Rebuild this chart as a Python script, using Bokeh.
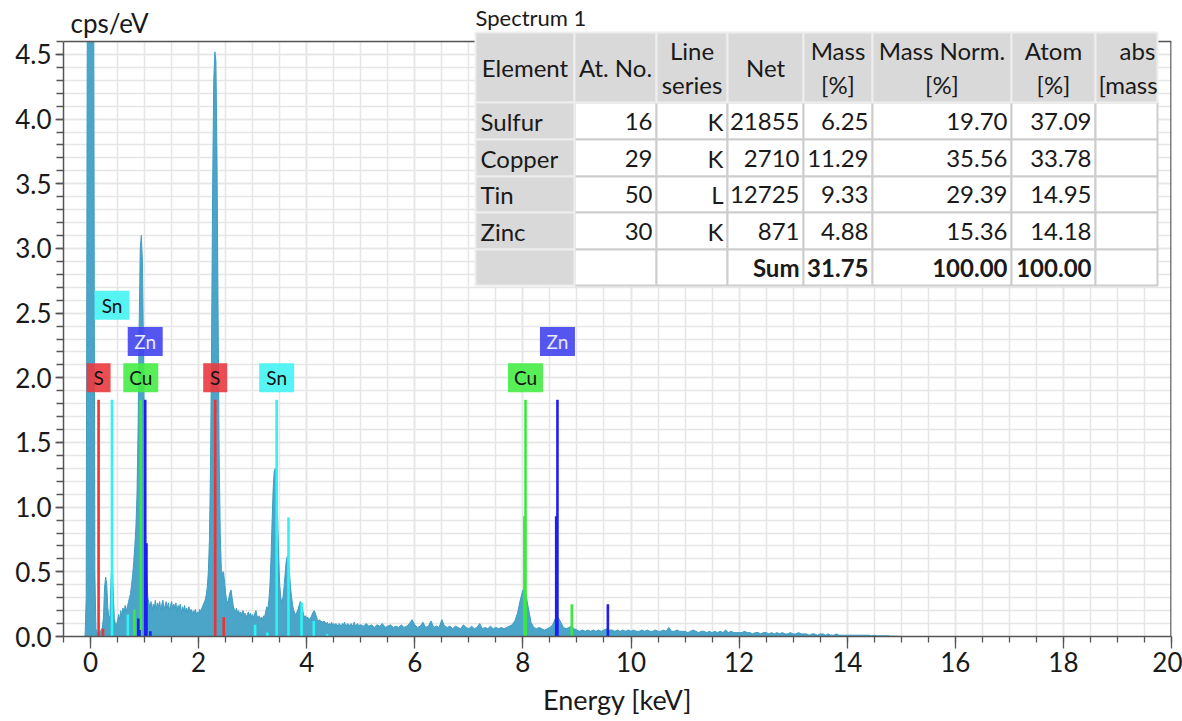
import numpy as np
from bokeh.plotting import figure
from bokeh.models import Range1d, SingleIntervalTicker, NumeralTickFormatter
from bokeh.embed import file_html
from bokeh.resources import INLINE
from bokeh.core.properties import value

# ---------------- data ----------------
# EDS spectrum (cps/eV), low-energy part: channels from -0.20 keV every 0.02 keV
# (the zero-energy strobe peak is off scale in the picture; it is kept just above the box top)
low_start, low_step = -0.20, 0.02
low_counts = [
    0, 0, 0, 0, 0, 0.01, 0.3, 4.8, 4.8, 4.8,
    4.8, 4.8, 4.8, 4.7, 0.5, 0.06, 0.03, 0.02, 0.03, 0.04,
    0.05, 0.07, 0.15, 0.38, 0.46, 0.40, 0.22, 0.14, 0.16, 0.45,
    0.60, 0.35, 0.14, 0.10, 0.09, 0.12, 0.17, 0.13, 0.20, 0.15,
    0.22, 0.18, 0.24, 0.19, 0.23, 0.26, 0.30, 0.33, 0.40, 0.48,
    0.58, 0.70, 0.85, 1.10, 1.60, 2.40, 3.00, 3.10, 2.90, 2.20,
    1.40, 0.75, 0.45, 0.30, 0.26, 0.22, 0.27, 0.20, 0.25, 0.22,
    0.28, 0.21, 0.26, 0.23, 0.27, 0.20, 0.25, 0.28, 0.21, 0.24,
    0.27, 0.22, 0.26, 0.20, 0.24, 0.27, 0.21, 0.25, 0.22, 0.26,
    0.19, 0.24, 0.21, 0.25, 0.18, 0.23, 0.20, 0.24, 0.19, 0.22,
    0.18, 0.23, 0.19, 0.21, 0.17, 0.20, 0.18, 0.21, 0.17, 0.19,
    0.18, 0.21, 0.19, 0.22, 0.24, 0.26, 0.28, 0.32, 0.38, 0.50,
    0.75, 1.30, 2.30, 3.50, 4.30, 4.52, 4.45, 3.70, 2.50, 1.40,
    0.80, 0.52, 0.48, 0.50, 0.42, 0.33, 0.28, 0.26, 0.30, 0.34,
    0.36, 0.30, 0.24, 0.21, 0.19, 0.22, 0.18, 0.20, 0.17, 0.19,
    0.16, 0.20, 0.17, 0.18, 0.15, 0.17, 0.19, 0.16, 0.18, 0.15,
    0.17, 0.14, 0.18, 0.20, 0.16, 0.14, 0.16, 0.13, 0.15, 0.13,
    0.16, 0.15, 0.19, 0.23, 0.21, 0.28, 0.40, 0.62, 0.90, 1.15,
    1.28, 1.30, 1.22, 0.95, 0.62, 0.40, 0.30, 0.26, 0.30, 0.38,
    0.48, 0.58, 0.62, 0.60, 0.50, 0.38, 0.30, 0.24, 0.20, 0.18,
    0.17, 0.19, 0.21, 0.24, 0.27, 0.26, 0.22, 0.17, 0.15, 0.16,
    0.14, 0.15, 0.13, 0.14, 0.15, 0.17, 0.19, 0.20, 0.18, 0.15,
    0.13, 0.12, 0.13, 0.11, 0.12, 0.10, 0.12, 0.11, 0.10, 0.11,
    0.09, 0.10, 0.09, 0.11, 0.09, 0.10, 0.08, 0.10, 0.09, 0.08,
    0.10, 0.09, 0.08, 0.10, 0.09, 0.11, 0.08, 0.09, 0.10, 0.08,
    0.09, 0.10, 0.08, 0.09, 0.11, 0.08, 0.09, 0.10, 0.08, 0.09,
]
# high-energy part: channels from 5.00 keV every 0.05 keV
high_start, high_step = 5.00, 0.05
high_counts = [
    0.09, 0.08, 0.10, 0.08, 0.09, 0.07, 0.09, 0.08, 0.10, 0.07, 0.08, 0.09, 0.07, 0.08, 0.07, 0.09, 0.07, 0.08, 0.10, 0.13,
    0.09, 0.07, 0.08, 0.11, 0.07, 0.08, 0.12, 0.07, 0.08, 0.07, 0.13, 0.08, 0.07, 0.08, 0.06, 0.08, 0.07, 0.06, 0.09, 0.07,
    0.06, 0.08, 0.06, 0.07, 0.10, 0.06, 0.07, 0.06, 0.08, 0.06, 0.07, 0.06, 0.07, 0.06, 0.07, 0.08, 0.09, 0.12, 0.18, 0.28,
    0.36, 0.34, 0.22, 0.11, 0.07, 0.06, 0.07, 0.06, 0.05, 0.06, 0.07, 0.09, 0.14, 0.15, 0.11, 0.07, 0.06, 0.07, 0.08, 0.06,
    0.05, 0.04, 0.05, 0.04, 0.05, 0.04, 0.05, 0.04, 0.05, 0.04, 0.05, 0.06, 0.05, 0.05, 0.04, 0.05, 0.04, 0.05, 0.04, 0.05,
    0.04, 0.05, 0.04, 0.04, 0.05, 0.04, 0.05, 0.04, 0.04, 0.05, 0.04, 0.04, 0.05, 0.04, 0.07, 0.04, 0.04, 0.05, 0.04, 0.04,
    0.04, 0.03, 0.04, 0.05, 0.04, 0.03, 0.04, 0.04, 0.03, 0.04, 0.03, 0.04, 0.03, 0.04, 0.03, 0.05, 0.03, 0.04, 0.03, 0.03,
    0.03, 0.03, 0.04, 0.03, 0.03, 0.02, 0.03, 0.03, 0.02, 0.03, 0.03, 0.02, 0.03, 0.02, 0.03, 0.02, 0.03, 0.02, 0.02, 0.03,
    0.02, 0.02, 0.03, 0.02, 0.02, 0.02, 0.01, 0.02, 0.02, 0.01, 0.02, 0.02, 0.01, 0.02, 0.01, 0.01, 0.02, 0.01, 0.01, 0.01,
    0.01, 0.01, 0.01, 0.01, 0.01, 0.01, 0.01, 0.01, 0.01, 0.005, 0.01, 0.005, 0.005, 0.005, 0.005, 0.005, 0.003, 0.003, 0.002, 0.002,
    0.0,
]

# characteristic line markers (energy keV, marker height cps/eV)
s_line_keV = [0.149, 0.230, 2.307, 2.464]
s_line_h = [1.83, 0.06, 1.83, 0.15]
sn_line_keV = [0.397, 0.691, 3.045, 3.272, 3.444, 3.663, 3.905, 4.131, 4.377]
sn_line_h = [1.83, 0.17, 0.09, 0.03, 1.83, 0.92, 0.26, 0.12, 0.02]
cu_line_keV = [0.811, 0.930, 8.028, 8.048, 8.905]
cu_line_h = [0.21, 1.83, 0.93, 1.83, 0.25]
zn_line_keV = [0.884, 0.907, 1.012, 1.035, 1.107, 8.616, 8.639, 9.572]
zn_line_h = [0.14, 0.05, 1.83, 0.72, 0.04, 0.93, 1.83, 0.25]

# peak labels
label_element = ["S", "Sn", "Zn", "Cu", "S", "Sn", "Cu", "Zn"]
label_keV = [0.149, 0.397, 1.012, 0.930, 2.307, 3.444, 8.048, 8.639]
label_tier = [0, 2, 1, 0, 0, 0, 0, 1]

# quantification table
tbl_element = ["Sulfur", "Copper", "Tin", "Zinc"]
tbl_at_no = [16, 29, 50, 30]
tbl_series = ["K", "K", "L", "K"]
tbl_net = [21855, 2710, 12725, 871]
tbl_mass = [6.25, 11.29, 9.33, 4.88]
tbl_mass_norm = [19.70, 35.56, 29.39, 15.36]
tbl_atom = [37.09, 33.78, 14.95, 14.18]
tbl_sum = [31.75, 100.00, 100.00]
tbl_header = [["Element"], ["At. No."], ["Line", "series"], ["Net"], ["Mass", "[%]"],
              ["Mass Norm.", "[%]"], ["Atom", "[%]"], ["abs", "[mass"]]

# ---------------- styling / layout ----------------
FONT = "Lato"
W, H = 1182, 721
FL, FR, FB = 63, 1171, 636          # frame left/right/bottom (px)
PLOT_TOP_PX = 41                    # top of the data box (px)
YMAX = 4.6
YTOP = YMAX * FB / (FB - PLOT_TOP_PX)
SPEC_FILL = "#4ba5c9"
SPEC_LINE = "#3f9cc3"
EL_COLOR = {"S": "#f03232", "Sn": "#2cf4f4", "Cu": "#3aea3a", "Zn": "#1e1ef0"}
BOX_COLOR = {"S": "#ea3a3f", "Sn": "#45f3f3", "Cu": "#45ec45", "Zn": "#4242ee"}
TXT_COLOR = {"S": "#111111", "Sn": "#111111", "Cu": "#111111", "Zn": "#e8e8ff"}
GRID = "#e6e6e6"
AX = "#555555"
TXT = "#1a1a1a"

p = figure(width=W, height=H, x_range=Range1d(-0.5, 20), y_range=Range1d(0, YTOP),
           output_backend="svg", toolbar_location=None, title=None,
           min_border_left=FL, min_border_right=W - FR, min_border_top=0,
           min_border_bottom=H - FB)
p.outline_line_color = None
p.background_fill_color = "white"
p.extra_x_ranges = {"px": Range1d(FL, FR)}
p.extra_y_ranges = {"px": Range1d(FB, 0)}

xt = SingleIntervalTicker(interval=2, num_minor_ticks=4)
yt = SingleIntervalTicker(interval=0.5, num_minor_ticks=5)
p.xaxis.ticker = xt
p.yaxis.ticker = yt
p.xgrid.ticker = xt
p.ygrid.ticker = yt
p.yaxis.bounds = (0, YMAX)
p.yaxis.formatter = NumeralTickFormatter(format="0.0")
for g in (p.xgrid, p.ygrid):
    g.grid_line_color = GRID
    g.grid_line_width = 1.6
    g.minor_grid_line_color = GRID
    g.minor_grid_line_width = 1.6

for ax in (p.xaxis, p.yaxis):
    ax.axis_line_color = AX
    ax.axis_line_width = 1.5
    ax.major_tick_line_color = AX
    ax.minor_tick_line_color = AX
    ax.major_tick_line_width = 1.3
    ax.minor_tick_line_width = 1.3
    ax.major_tick_in = 0
    ax.minor_tick_in = 0
    ax.major_label_text_font = FONT
    ax.major_label_text_font_size = "26px"
    ax.major_label_text_color = TXT
p.xaxis.major_tick_out = 12
p.xaxis.minor_tick_out = 6
p.yaxis.major_tick_out = 8
p.yaxis.minor_tick_out = 7
p.xaxis.major_label_standoff = 3
p.yaxis.major_label_standoff = 4
p.xaxis.axis_label = "Energy [keV]"
p.xaxis.axis_label_text_font = FONT
p.xaxis.axis_label_text_font_size = "27px"
p.xaxis.axis_label_text_font_style = "normal"
p.xaxis.axis_label_text_color = TXT
p.xaxis.axis_label_standoff = 8

# spectrum
E = np.concatenate([np.round(low_start + low_step * np.arange(len(low_counts)), 3),
                    np.round(high_start + high_step * np.arange(len(high_counts)), 3)])
C = np.array(low_counts + high_counts)
p.varea(x=E, y1=0, y2=C, fill_color=SPEC_FILL, fill_alpha=1.0)
p.line(E, C, line_color=SPEC_LINE, line_width=1)

# characteristic line markers
for el, xs, hs in (("S", s_line_keV, s_line_h), ("Sn", sn_line_keV, sn_line_h),
                   ("Cu", cu_line_keV, cu_line_h), ("Zn", zn_line_keV, zn_line_h)):
    p.segment(x0=xs, y0=[0] * len(xs), x1=xs, y1=hs, line_color=EL_COLOR[el], line_width=2.6)

# peak labels
tier_y = [2.0, 2.28, 2.56]
ly = [tier_y[t] for t in label_tier]
lw = [24 if len(e) == 1 else 35 for e in label_element]
p.rect(x=label_keV, y=ly, width=lw, height=29, width_units="screen", height_units="screen",
       fill_color=[BOX_COLOR[e] for e in label_element], fill_alpha=0.9, line_color=None)
p.text(x=label_keV, y=ly, text=label_element, text_align="center", text_baseline="middle",
       text_font=value(FONT), text_font_size="19px",
       text_color=[TXT_COLOR[e] for e in label_element])

# mask above the data box, borders
px = dict(x_range_name="px", y_range_name="px")
p.quad(left=[FL - 5], right=[FR + 5], top=[-20], bottom=[PLOT_TOP_PX], fill_color="white", line_color=None, **px)
p.segment(x0=[FL], y0=[PLOT_TOP_PX], x1=[FR], y1=[PLOT_TOP_PX], line_color=AX, line_width=1.5, **px)
p.segment(x0=[FR - 0.5], y0=[PLOT_TOP_PX], x1=[FR - 0.5], y1=[FB], line_color=AX, line_width=1.5, **px)

p.text(x=[70], y=[22], text=["cps/eV"], text_baseline="middle", text_font=value(FONT),
       text_font_size="26px", text_color=TXT, **px)

# ---------------- table ----------------
col_edges = [475, 574, 656, 727, 803, 872, 1011, 1095, 1157]
row_edges = [32, 102, 139, 176, 212, 249, 285]
GRAY = "#d9d9d9"
TFS = "24px"
wl, wr, wt, wb, gl, gr, gt, gb = [], [], [], [], [], [], [], []
for r in range(len(row_edges) - 1):
    for c in range(len(col_edges) - 1):
        if r == 0 or c == 0:
            gl.append(col_edges[c]); gr.append(col_edges[c + 1]); gt.append(row_edges[r]); gb.append(row_edges[r + 1])
        else:
            wl.append(col_edges[c]); wr.append(col_edges[c + 1]); wt.append(row_edges[r]); wb.append(row_edges[r + 1])
p.quad(left=wl, right=wr, top=wt, bottom=wb, fill_color="white", line_color="#cdcdcd", line_width=2, **px)
p.quad(left=gl, right=gr, top=gt, bottom=gb, fill_color=GRAY, line_color="#eeeeee", line_width=2, **px)

p.text(x=[475], y=[17], text=["Spectrum 1"], text_baseline="middle", text_font=value(FONT),
       text_font_size="22px", text_color=TXT, **px)

# header
hx, hy, ht, ha = [], [], [], []
for c, lines in enumerate(tbl_header):
    cx = (col_edges[c] + col_edges[c + 1]) / 2
    yc = (row_edges[0] + row_edges[1]) / 2
    ys = [yc] if len(lines) == 1 else [yc - 17, yc + 17]
    for i, (t, yy) in enumerate(zip(lines, ys)):
        if c == len(tbl_header) - 1:
            # last column is cut off by the box edge
            hx.append(col_edges[c] + 42 if i == 0 else col_edges[c] + 3)
            ha.append("center" if i == 0 else "left")
        else:
            hx.append(cx); ha.append("center")
        hy.append(yy); ht.append(t)
p.text(x=hx, y=hy, text=ht, text_align=ha, text_baseline="middle", text_font=value(FONT),
       text_font_size=TFS, text_color=TXT, **px)

# body
bx, by, bt, ba = [], [], [], []
cols = [tbl_element, [str(v) for v in tbl_at_no], tbl_series, [str(v) for v in tbl_net],
        [f"{v:.2f}" for v in tbl_mass], [f"{v:.2f}" for v in tbl_mass_norm], [f"{v:.2f}" for v in tbl_atom]]
for r in range(len(tbl_element)):
    yc = (row_edges[r + 1] + row_edges[r + 2]) / 2
    for c, col in enumerate(cols):
        if c == 0:
            bx.append(col_edges[0] + 5); ba.append("left")
        else:
            bx.append(col_edges[c + 1] - 4); ba.append("right")
        by.append(yc); bt.append(col[r])
p.text(x=bx, y=by, text=bt, text_align=ba, text_baseline="middle", text_font=value(FONT),
       text_font_size=TFS, text_color=TXT, **px)

# sum row
ys = (row_edges[-2] + row_edges[-1]) / 2
sum_txt = ["Sum"] + [f"{v:.2f}" for v in tbl_sum]
sum_x = [col_edges[4] - 4, col_edges[5] - 4, col_edges[6] - 4, col_edges[7] - 4]
p.text(x=sum_x, y=[ys] * 4, text=sum_txt, text_align="right", text_baseline="middle",
       text_font=value(FONT), text_font_size=TFS, text_font_style="bold", text_color=TXT, **px)

open("out.html", "w").write(file_html(p, INLINE))
